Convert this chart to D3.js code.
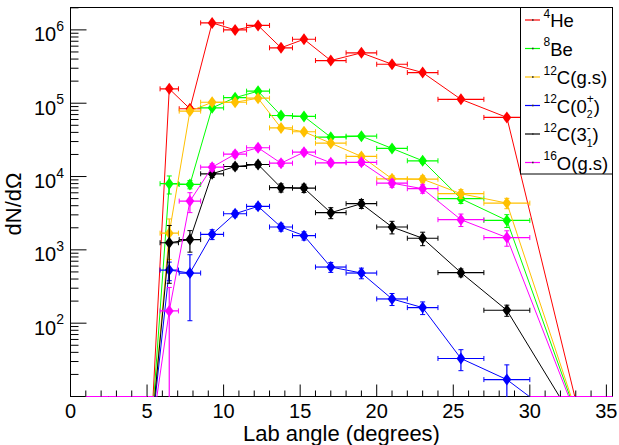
<!DOCTYPE html>
<html><head><meta charset="utf-8">
<script src="https://cdn.jsdelivr.net/npm/d3@7"></script>
<style>
body{margin:0;background:#fff}
svg{display:block}
text{font-family:"Liberation Sans",Arial,Helvetica,sans-serif;fill:#000}
</style>
</head><body>
<svg id="chart" width="619" height="445"></svg>
<script>
// ---- data ----
const angles   = [1.75, 3.25, 4.5, 5.25, 6.45, 7.8, 9.25, 10.75, 12.25, 13.75, 15.25, 17, 19, 21, 23, 25.5, 28.5, 33.6];
const angleErr = [0.75, 0.75, 0.5, 0.2, 0.6, 0.7, 0.75, 0.75, 0.75, 0.75, 0.75, 1, 1, 1, 1, 1.5, 1.5, 3.6];

const he4Vals   = [0,0,0,0, 157000, 84000, 1245000, 1000000, 1150000, 570000, 745000, 382000, 486000, 340000, 262000, 113000, 64000, 0];
const he4Err    = [0,0,0,0, 8000, 6000, 25000, 20000, 22000, 15000, 17000, 12000, 14000, 11000, 10000, 6000, 4500, 0];
const be8Vals   = [0,0,0,0, 7980, 7800, 86500, 119000, 146000, 68000, 66000, 34400, 35500, 24200, 16400, 4990, 2520, 0];
const be8Err    = [0,0,0,0, 2200, 1000, 3000, 3500, 4000, 2500, 2500, 1800, 1800, 1500, 1200, 700, 500, 0];
const c12gsVals = [0,0,0,0, 1690, 78000, 103000, 103000, 117000, 46000, 40800, 28500, 18800, 9300, 9200, 5830, 4340, 0];
const c12gsErr  = [0,0,0,0, 950, 3000, 3500, 3500, 3800, 2300, 2200, 1800, 1400, 1000, 1000, 800, 700, 0];
const c12_02Vals = [0,0,0,0, 530, 483, 1630, 3110, 3920, 2050, 1560, 583, 483, 214, 163, 33, 17, 0];
const c12_02Err  = [0,0,0,0, 150, 375, 250, 300, 350, 250, 200, 90, 80, 40, 32, 10.5, 10, 0];
const c12_31Vals = [0,0,0,0, 1250, 1380, 10900, 13700, 14600, 7040, 6950, 3210, 4260, 2050, 1440, 489, 150, 0];
const c12_31Err  = [0,0,0,0, 900, 450, 1200, 1300, 1300, 900, 900, 550, 600, 400, 300, 60, 26, 0];
const o16Vals   = [0,0,0,0, 147, 4620, 13400, 20200, 24700, 15200, 21500, 15400, 15600, 8130, 6820, 2580, 1470, 0];
const o16Err    = [0,0,0,0, 160, 1400, 1500, 1800, 2000, 1500, 1800, 1400, 1400, 1000, 900, 500, 350, 0];

const seriesNames  = ["He4", "Be8", "C12gs", "C12_02", "C12_31", "O16"];
const seriesColors = ["#ff0000", "#00ff00", "#ffc000", "#0000ff", "#000000", "#ff00ff"];
const legendLabels = [
  [{sup:"4"}, {t:"He"}],
  [{sup:"8"}, {t:"Be"}],
  [{sup:"12"}, {t:"C(g.s)"}],
  [{sup:"12"}, {t:"C(0"}, {sup:"+", sub:"2"}, {t:")"}],
  [{sup:"12"}, {t:"C(3"}, {sup:"-", sub:"1"}, {t:")"}],
  [{sup:"16"}, {t:"O(g.s)"}]
];
const xTicksMajor = [0, 5, 10, 15, 20, 25, 30, 35];
const yDecades = [2, 3, 4, 5, 6];

// ---- layout ----
const svg = d3.select("#chart");
const L = 70.5, R = 612.5, T = 7.5, B = 396.5;
const x = d3.scaleLinear().domain([0, 35.4]).range([L, R]);
const y = d3.scaleLog().domain([10, 2.02e6]).range([B, T]);
const ZERO_FLOOR = Math.pow(10, 0.43); // where empty bins sit in log scale (below the frame)

svg.append("rect").attr("width", 619).attr("height", 445).attr("fill", "#fff");
svg.append("defs").append("clipPath").attr("id", "clip")
  .append("rect").attr("x", L).attr("y", T).attr("width", R - L).attr("height", B - T + 0.6);

// frame
svg.append("rect").attr("x", L).attr("y", T).attr("width", R - L).attr("height", B - T)
  .attr("fill", "none").attr("stroke", "#000").attr("stroke-width", 1);

const series = [
  {v: he4Vals, e: he4Err},
  {v: be8Vals, e: be8Err},
  {v: c12gsVals, e: c12gsErr},
  {v: c12_02Vals, e: c12_02Err},
  {v: c12_31Vals, e: c12_31Err},
  {v: o16Vals, e: o16Err}
];

const plot = svg.append("g").attr("clip-path", "url(#clip)");
const diamond = "M0,-6L4.4,0L0,6L-4.4,0Z";
const line = d3.line().x(d => x(d.a)).y(d => y(d.v > 0 ? d.v : ZERO_FLOOR));

series.forEach((s, si) => {
  const col = seriesColors[si];
  const pts = angles.map((a, i) => ({a, ex: angleErr[i], v: s.v[i], ey: s.e[i]}));
  const g = plot.append("g");
  g.append("path").datum(pts).attr("d", line)
    .attr("fill", "none").attr("stroke", col).attr("stroke-width", 1);
  pts.forEach(p => {
    const cy = p.v > 0 ? y(p.v) : B;
    const x0 = x(p.a - p.ex), x1 = x(p.a + p.ex), cx = x(p.a);
    g.append("line").attr("x1", x0).attr("x2", x1).attr("y1", cy).attr("y2", cy)
      .attr("stroke", col).attr("stroke-width", 1.2);
    if (p.v > 0) {
      g.append("line").attr("x1", x0).attr("x2", x0).attr("y1", cy - 2.5).attr("y2", cy + 2.5)
        .attr("stroke", col).attr("stroke-width", 1);
      g.append("line").attr("x1", x1).attr("x2", x1).attr("y1", cy - 2.5).attr("y2", cy + 2.5)
        .attr("stroke", col).attr("stroke-width", 1);
      const lo = p.v - p.ey;
      const yHi = y(p.v + p.ey), yLo = lo > 0 ? y(lo) : B + 2;
      g.append("line").attr("x1", cx).attr("x2", cx).attr("y1", yHi).attr("y2", yLo)
        .attr("stroke", col).attr("stroke-width", 1.2);
      g.append("line").attr("x1", cx - 2.5).attr("x2", cx + 2.5).attr("y1", yHi).attr("y2", yHi)
        .attr("stroke", col).attr("stroke-width", 1);
      if (lo > 0) g.append("line").attr("x1", cx - 2.5).attr("x2", cx + 2.5).attr("y1", yLo).attr("y2", yLo)
        .attr("stroke", col).attr("stroke-width", 1);
      g.append("path").attr("d", diamond).attr("transform", `translate(${cx},${cy})`)
        .attr("fill", col);
    }
  });
});

// ---- axes ticks ----
const axis = svg.append("g").attr("stroke", "#000").attr("stroke-width", 1);
for (let v = 0; v <= 35; v += 1) {
  const major = xTicksMajor.includes(v);
  axis.append("line").attr("x1", x(v)).attr("x2", x(v)).attr("y1", B).attr("y2", B - (major ? 12 : 6));
}
xTicksMajor.forEach(v => {
  svg.append("text").attr("x", x(v)).attr("y", 417.5).attr("text-anchor", "middle")
    .attr("font-size", 20).text(v);
});
for (let k = 1; k <= 6; k++) {
  for (let m = 1; m <= 9; m++) {
    const v = m * Math.pow(10, k);
    if (v < 10 || v > 2.02e6) continue;
    if (m === 1 && k === 1) continue;
    axis.append("line").attr("x1", L).attr("x2", L + (m === 1 ? 16 : 8)).attr("y1", y(v)).attr("y2", y(v));
  }
}
yDecades.forEach(k => {
  const t = svg.append("text").attr("x", 64).attr("y", y(Math.pow(10, k)) + 11.5)
    .attr("text-anchor", "end").attr("font-size", 20);
  t.append("tspan").text("10");
  t.append("tspan").attr("dy", -10.5).attr("font-size", 14).text(k);
});

// axis titles
svg.append("text").attr("x", (L + R) / 2).attr("y", 440.5).attr("text-anchor", "middle")
  .attr("font-size", 22).text("Lab angle (degrees)");
svg.append("text").attr("transform", `translate(20.5,${(T + B) / 2 + 2}) rotate(-90)`)
  .attr("text-anchor", "middle").attr("font-size", 22).text("dN/dΩ");

// ---- legend ----
const lg = svg.append("g");
lg.append("rect").attr("x", 520.5).attr("y", 7.5).attr("width", 92).attr("height", 166.5)
  .attr("fill", "#fff").attr("stroke", "#000").attr("stroke-width", 1);
legendLabels.forEach((parts, i) => {
  const ry = 20 + i * 28.5;
  const col = seriesColors[i];
  lg.append("line").attr("x1", 525).attr("x2", 540).attr("y1", ry).attr("y2", ry)
    .attr("stroke", col).attr("stroke-width", 1.2);
  lg.append("rect").attr("x", 532).attr("y", ry - 0.8).attr("width", 1.6).attr("height", 1.6)
    .attr("fill", "#333");
  const base = ry + 7.3;
  let cx = 543.5;
  parts.forEach(p => {
    if (p.t) {
      const el = lg.append("text").attr("x", cx).attr("y", base).attr("font-size", 18.5).text(p.t);
      cx += el.node().getComputedTextLength();
    } else {
      let w = 0;
      if (p.sup) {
        const el = lg.append("text").attr("x", cx).attr("y", base - 9.5).attr("font-size", 12).text(p.sup);
        w = Math.max(w, el.node().getComputedTextLength());
      }
      if (p.sub) {
        const el = lg.append("text").attr("x", cx).attr("y", base + 5.5).attr("font-size", 10.5).text(p.sub);
        w = Math.max(w, el.node().getComputedTextLength());
      }
      cx += w;
    }
  });
});
</script>
</body></html>
